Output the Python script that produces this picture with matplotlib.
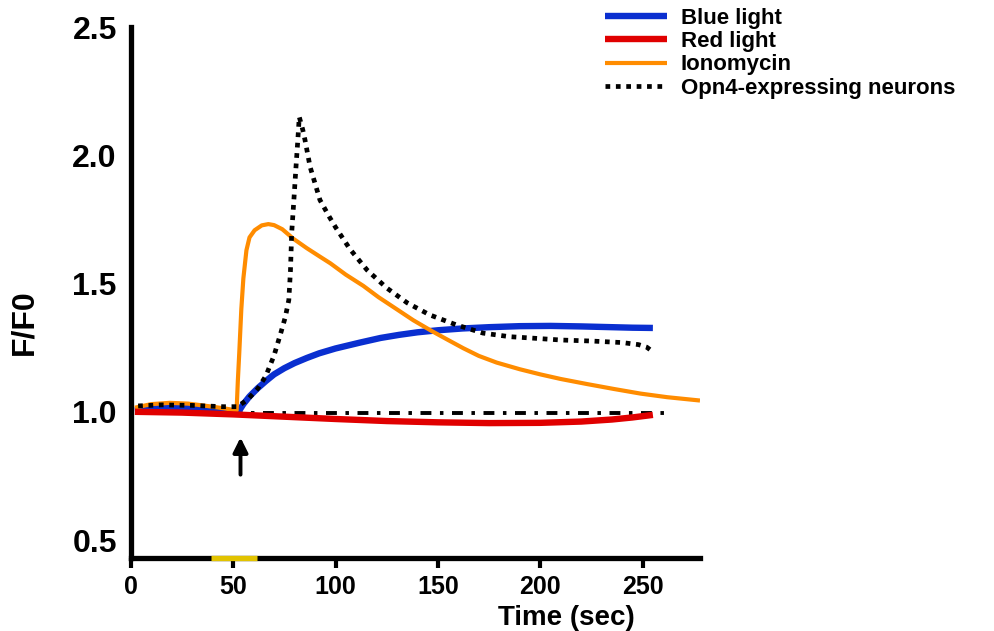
import matplotlib
matplotlib.use("Agg")
import matplotlib.pyplot as plt

plt.rcParams["font.family"] = ["Liberation Sans", "DejaVu Sans"]
plt.rcParams["font.weight"] = "bold"

# ---------------------------------------------------------------------------
# Data
# ---------------------------------------------------------------------------

blue_t = [2, 10, 20, 30, 40, 48, 52, 53, 55, 58, 62, 66, 70, 75, 80, 86, 92,
          100, 112, 122, 131, 140, 150, 162, 175, 190, 205, 220, 235, 245, 255]
blue_y = [1.005, 1.012, 1.017, 1.015, 1.010, 1.003, 1.000, 1.005, 1.030, 1.060,
          1.092, 1.120, 1.146, 1.170, 1.190, 1.210, 1.228, 1.247, 1.270, 1.288,
          1.300, 1.310, 1.318, 1.325, 1.330, 1.334, 1.335, 1.333, 1.330, 1.328,
          1.327]

red_t = [2, 25, 50, 75, 100, 125, 150, 175, 200, 220, 235, 245, 255]
red_y = [1.000, 0.997, 0.990, 0.981, 0.972, 0.964, 0.959, 0.956, 0.957,
         0.962, 0.970, 0.978, 0.988]

orange_t = [2, 10, 19, 28, 38, 46, 51.7, 52.3, 53.0, 54.0, 55.0, 56.5, 58.0,
            60.5, 64, 67.2, 70, 74, 79.4, 86, 92.4, 97.5, 105, 113.6, 121,
            129.9, 138, 147, 155, 162.4, 170, 178.7, 190, 200, 210, 223, 236,
            249, 262, 278]
orange_y = [1.016, 1.030, 1.035, 1.032, 1.022, 1.013, 1.005, 1.120, 1.230,
            1.400, 1.520, 1.630, 1.680, 1.708, 1.727, 1.732, 1.728, 1.712,
            1.675, 1.638, 1.605, 1.579, 1.535, 1.491, 1.447, 1.400, 1.357,
            1.315, 1.280, 1.248, 1.218, 1.192, 1.166, 1.146, 1.128, 1.108,
            1.089, 1.071, 1.057, 1.044]

opn4_t = [3.6, 15, 30, 45, 52, 57, 62, 66, 70, 73.3, 75.5, 77.2, 78, 78.6,
          79.7, 80.7, 81.6, 82.3, 84, 85.1, 87.6, 92.4, 97, 100, 107, 115.4,
          125, 135, 146, 159, 172, 185, 195, 210, 225, 240, 248, 252, 255]
opn4_y = [1.023, 1.027, 1.025, 1.020, 1.020, 1.047, 1.090, 1.140, 1.220,
          1.308, 1.370, 1.436, 1.550, 1.697, 1.830, 1.955, 2.060, 2.150,
          2.100, 2.060, 1.955, 1.826, 1.760, 1.720, 1.635, 1.553, 1.483,
          1.425, 1.378, 1.339, 1.307, 1.293, 1.288, 1.280, 1.276, 1.270,
          1.262, 1.252, 1.234]

baseline_t = [3, 262]
baseline_y = [0.995, 0.995]

stim_window = (39, 61.5)     # yellow bar on the time axis
arrow_t = 53.6
arrow_y = (0.755, 0.90)

x_ticks = [0, 50, 100, 150, 200, 250]
y_ticks = [0.5, 1.0, 1.5, 2.0, 2.5]

COLOR_BLUE = "#0a2fd0"
COLOR_RED = "#e00000"
COLOR_ORANGE = "#ff8c00"
COLOR_YELLOW = "#e2c300"

# ---------------------------------------------------------------------------
# Plot
# ---------------------------------------------------------------------------

fig = plt.figure(figsize=(9.95, 6.31), dpi=100)
ax = fig.add_axes([0.1314, 0.1157, 0.5721, 0.8413])

ax.plot(baseline_t, baseline_y, color="black", lw=2.8,
        ls=(0, (2.8, 2.2, 0.9, 2.2)), dash_capstyle="butt", zorder=2)
ax.plot(blue_t, blue_y, color=COLOR_BLUE, lw=4.6, label="Blue light",
        solid_capstyle="butt", solid_joinstyle="round", zorder=3)
ax.plot(orange_t, orange_y, color=COLOR_ORANGE, lw=3.0, label="Ionomycin",
        solid_capstyle="butt", solid_joinstyle="round", zorder=4)
ax.plot(red_t, red_y, color=COLOR_RED, lw=4.6, label="Red light",
        solid_capstyle="butt", solid_joinstyle="round", zorder=4)
ax.plot(opn4_t, opn4_y, color="black", lw=3.4, ls=(0, (1, 1.2)),
        dash_capstyle="butt", label="Opn4-expressing neurons", zorder=5)

ax.annotate("", xy=(arrow_t, arrow_y[1]), xytext=(arrow_t, arrow_y[0]),
            arrowprops=dict(arrowstyle="-|>", lw=2.8, color="black",
                            mutation_scale=22, shrinkA=0, shrinkB=0))

ax.set_xlim(0, 278)
ax.set_ylim(0.43, 2.5)
ax.set_xticks(x_ticks)
ax.set_yticks(y_ticks)
ax.set_yticklabels([f"{v:.1f}" for v in y_ticks])

for side in ("top", "right"):
    ax.spines[side].set_visible(False)
for side in ("left", "bottom"):
    ax.spines[side].set_linewidth(3.8)
    ax.spines[side].set_capstyle("projecting")

ax.tick_params(axis="x", direction="out", length=7, width=3, labelsize=18, pad=5)
ax.tick_params(axis="y", length=0, labelsize=23, pad=10)

# stimulus window drawn over the time axis
ax.plot(stim_window, [0.43, 0.43], color=COLOR_YELLOW, lw=3.8,
        solid_capstyle="butt", clip_on=False, zorder=6)

ax.set_xlabel("Time (sec)", fontsize=20, fontweight="bold")
ax.xaxis.set_label_coords(0.766, -0.088)
ax.set_ylabel("F/F0", fontsize=23, fontweight="bold")
ax.yaxis.set_label_coords(-0.186, 0.444)
ax.yaxis.label.set_va("center")

handles, labels = ax.get_legend_handles_labels()
order = ["Blue light", "Red light", "Ionomycin", "Opn4-expressing neurons"]
handles = [handles[labels.index(k)] for k in order]
fig.legend(handles, order, loc="upper left", bbox_to_anchor=(605 / 995, 1 - 8 / 631),
           frameon=False, prop={"weight": "bold", "size": 16},
           handlelength=2.8, handletextpad=0.6, labelspacing=0.1, borderpad=0,
           borderaxespad=0)

fig.savefig("out.png", dpi=100)
